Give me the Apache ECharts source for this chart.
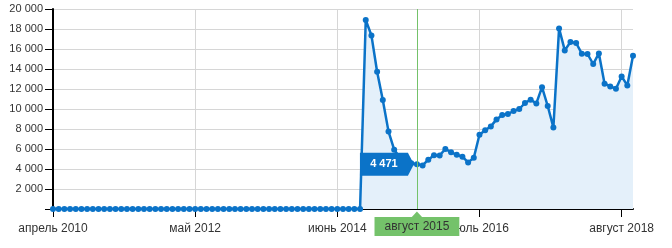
<!DOCTYPE html>
<html>
<head>
<meta charset="utf-8">
<script src="https://cdn.jsdelivr.net/npm/echarts@6/dist/echarts.min.js"></script>
<style>
html,body{margin:0;padding:0;background:#fff;}
#c{width:672px;height:248px;}
</style>
</head>
<body>
<div id="c"></div>
<script>
// Month names and range (April 2010 – October 2018, monthly)
const monthNames = ['январь','февраль','март','апрель','май','июнь','июль','август','сентябрь','октябрь','ноябрь','декабрь'];
const startYear = 2010, startMonth = 3, monthCount = 103;
const categories = [];
for (let i = 0; i < monthCount; i++) {
  const m = (startMonth + i) % 12;
  const y = startYear + Math.floor((startMonth + i) / 12);
  categories.push(monthNames[m] + ' ' + y);
}

// Series values
const values = [
  0,0,0,0,0,0,0,0,0,0,
  0,0,0,0,0,0,0,0,0,0,
  0,0,0,0,0,0,0,0,0,0,
  0,0,0,0,0,0,0,0,0,0,
  0,0,0,0,0,0,0,0,0,0,
  0,0,0,0,0,
  18900,17360,13730,10900,7760,5930,5150,4750,4580,4471,
  4360,4930,5380,5360,6000,5680,5420,5230,4660,5120,
  7430,7880,8260,8960,9400,9500,9800,10000,10600,10930,
  10560,12180,10300,8160,18060,15860,16700,16600,15530,15500,
  14500,15560,12530,12260,12030,13260,12360,15330
];

// Y-axis ticks
const yTicks = [0,2000,4000,6000,8000,10000,12000,14000,16000,18000,20000];
// Highlighted month (crosshair)
const highlightCategory = 'август 2015';

const fmt = v => String(v).replace(/\B(?=(\d{3})+(?!\d))/g, ' ');
const hi = categories.indexOf(highlightCategory);

const BLUE = '#0b73c8';
const GREEN = '#74c26a';

const pointerLine = {color: GREEN, width: 1, type: 'solid'};

const chart = echarts.init(document.getElementById('c'));
chart.setOption({
  animation: false,
  textStyle: {fontFamily: 'Liberation Sans, Arial, sans-serif'},
  grid: {left: 53, right: 39, top: 9, bottom: 39, containLabel: false},
  tooltip: {show: true, trigger: 'axis', showContent: false, triggerOn: 'none',
    axisPointer: {type: 'line', lineStyle: pointerLine}},
  xAxis: {
    type: 'category',
    data: categories,
    boundaryGap: false,
    axisLine: {lineStyle: {color: '#000', width: 2}},
    axisTick: {show: true, interval: 24, length: 8, lineStyle: {color: '#000', width: 1}},
    axisLabel: {interval: 24, margin: 14, fontSize: 12, color: '#333', hideOverlap: false},
    splitLine: {show: true, interval: 24, lineStyle: {color: '#d6d6d6', width: 1}},
    axisPointer: {
      show: true,
      value: highlightCategory,
      status: 'show',
      type: 'line',
      triggerTooltip: false,
      lineStyle: pointerLine,
      label: {
        show: true,
        margin: 8,
        backgroundColor: GREEN,
        color: '#333',
        fontSize: 12,
        padding: [4, 10, 3, 10],
        borderRadius: 0,
        shadowBlur: 0,
        formatter: p => p.value
      }
    }
  },
  yAxis: {
    type: 'value',
    min: yTicks[0],
    max: yTicks[yTicks.length - 1],
    interval: 2000,
    axisLine: {show: true, lineStyle: {color: '#000', width: 2}},
    axisTick: {show: true, length: 8, lineStyle: {color: '#000', width: 1}},
    axisLabel: {margin: 10, fontSize: 11, color: '#333', formatter: v => v === 0 ? '' : fmt(v)},
    splitLine: {show: true, lineStyle: {color: '#d6d6d6', width: 1}}
  },
  series: [{
    type: 'line',
    data: values,
    symbol: 'circle',
    symbolSize: 6,
    showSymbol: true,
    showAllSymbol: true,
    color: BLUE,
    itemStyle: {color: BLUE},
    lineStyle: {color: BLUE, width: 2.5},
    areaStyle: {color: '#e4f0fa', opacity: 1},
    markPoint: {
      silent: true,
      animation: false,
      data: [
        {
          coord: [hi, values[hi]],
          value: values[hi],
          symbol: 'path://M0,0 L48,0 L54,11.5 L48,23 L0,23 Z',
          symbolSize: [54, 23],
          symbolOffset: [-30, 0],
          itemStyle: {color: BLUE},
          label: {
            show: true,
            position: 'inside',
            offset: [-3, 0],
            color: '#fff',
            fontWeight: 'bold',
            fontSize: 11,
            formatter: p => fmt(p.value)
          }
        },
        {
          coord: [hi, yTicks[0]],
          symbol: 'triangle',
          symbolSize: [13, 7],
          symbolOffset: [0, 6],
          itemStyle: {color: GREEN},
          label: {show: false}
        }
      ]
    }
  }]
});
</script>
</body>
</html>
